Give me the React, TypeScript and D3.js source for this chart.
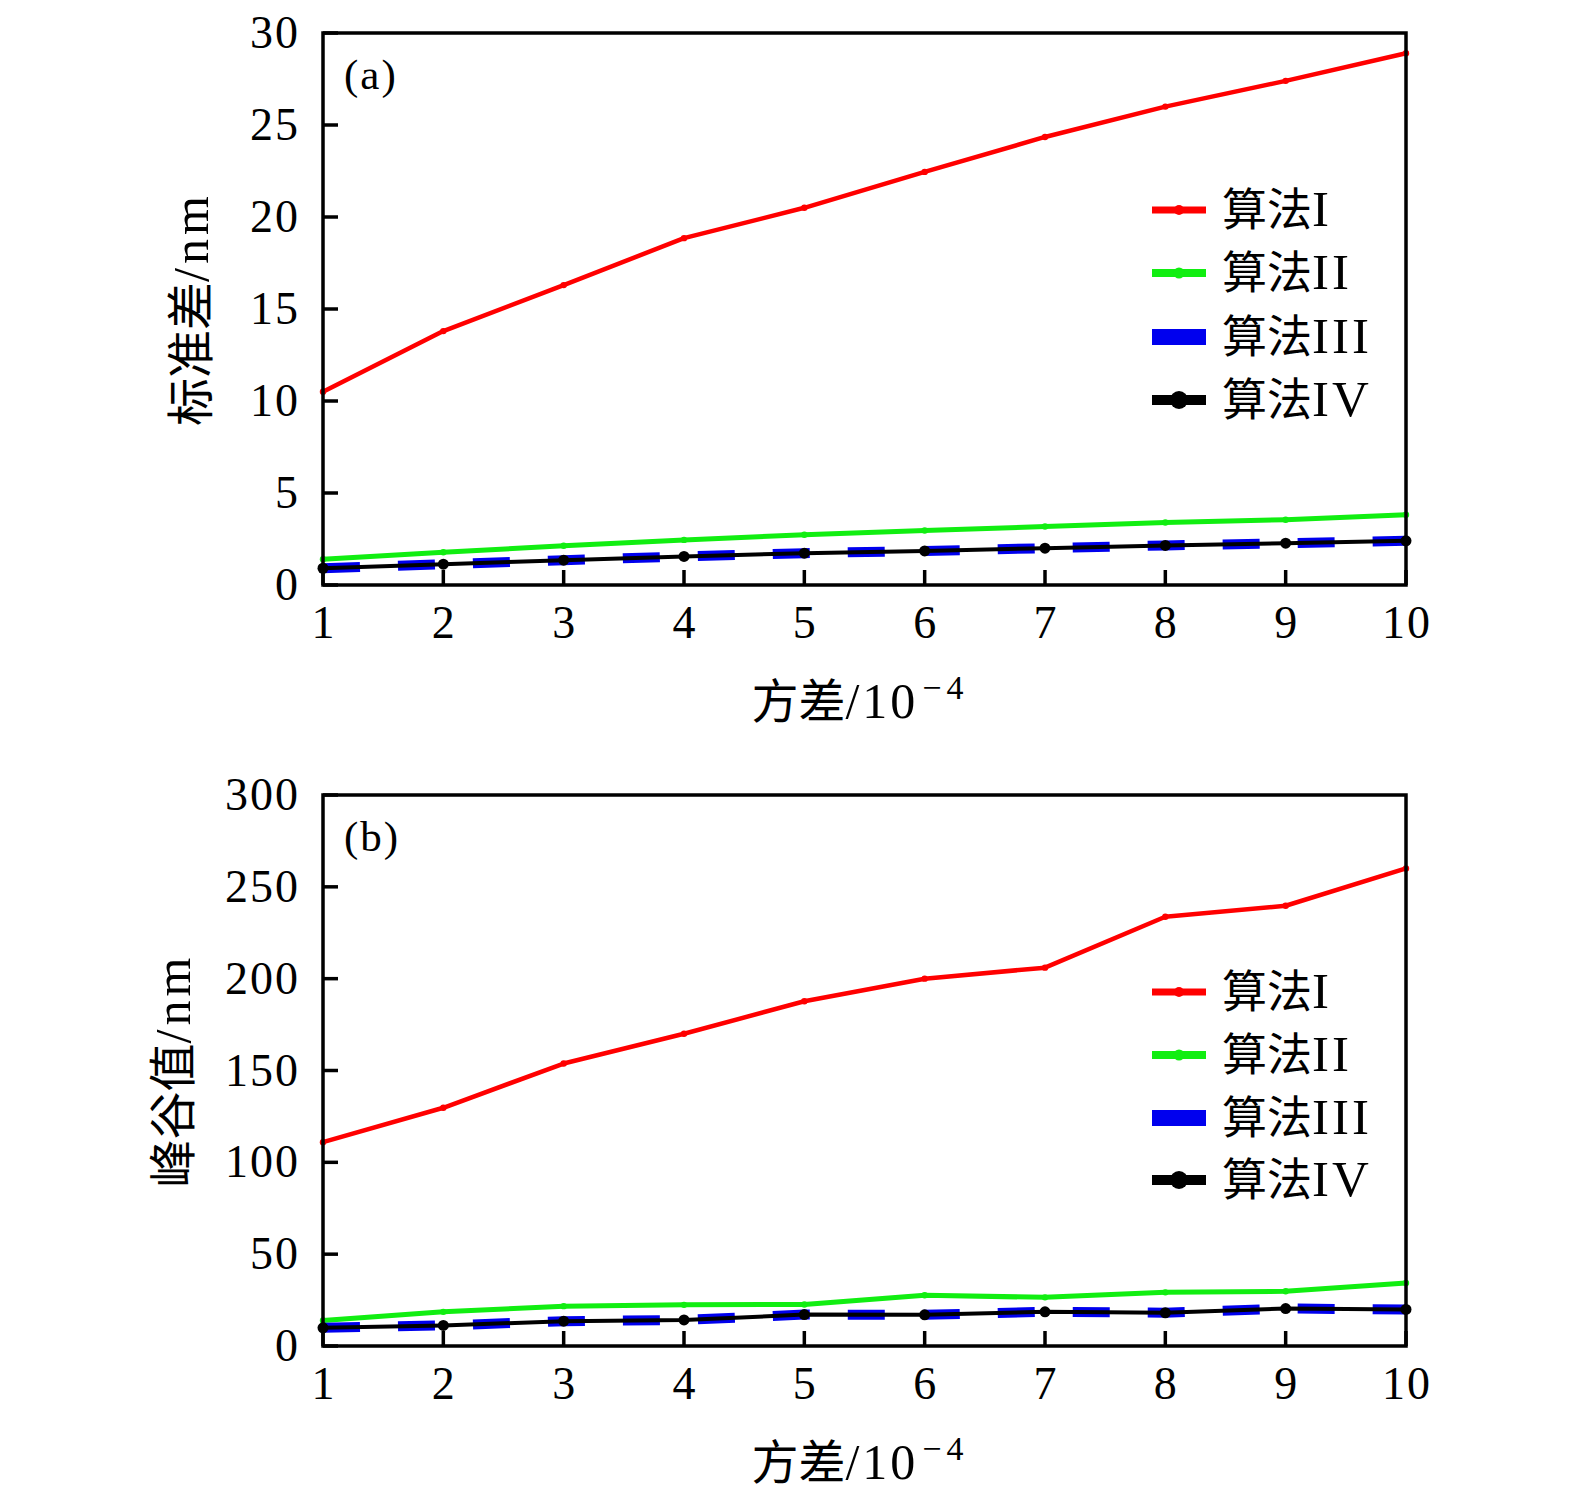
import React from "react";
import { scaleLinear, line } from "d3";

// x axis: variance in units of 1e-4
const variance = [1, 2, 3, 4, 5, 6, 7, 8, 9, 10];

// panel (a) standard deviation / nm
const stdAlg1 = [10.5, 13.8, 16.3, 18.85, 20.5, 22.45, 24.35, 26.0, 27.4, 28.9];
const stdAlg2 = [1.4, 1.78, 2.13, 2.45, 2.73, 2.96, 3.18, 3.4, 3.55, 3.82];
const stdAlg3 = [0.91, 1.13, 1.35, 1.55, 1.73, 1.85, 2.0, 2.15, 2.27, 2.4];
const stdAlg4 = [0.91, 1.13, 1.35, 1.55, 1.73, 1.85, 2.0, 2.15, 2.27, 2.4];

// panel (b) peak-to-valley / nm
const pvAlg1 = [111, 129.7, 153.8, 170, 187.7, 200, 206, 233.7, 239.7, 260];
const pvAlg2 = [13.9, 18.6, 21.7, 22.4, 22.6, 27.6, 26.5, 29.2, 29.8, 34.3];
const pvAlg3 = [9.9, 11.2, 13.5, 14.2, 17.1, 17.0, 18.6, 18.1, 20.4, 19.9];
const pvAlg4 = [9.9, 11.2, 13.5, 14.2, 17.1, 17.0, 18.6, 18.1, 20.4, 19.9];

const stdTicks = [0, 5, 10, 15, 20, 25, 30];
const pvTicks = [0, 50, 100, 150, 200, 250, 300];
const legendCjk = "算法";
const legendRoman = ["I", "II", "III", "IV"];

const FONT = "'Liberation Serif', 'Noto Sans CJK SC', serif";
const plotLeft = 323;
const plotRight = 1406;

interface PanelProps {
  top: number;
  bottom: number;
  yMax: number;
  yTicks: number[];
  tag: string;
  yTitleCjk: string;
  yTitleX: number;
  series: number[][];
  legendRows: number[];
}

const Panel: React.FC<PanelProps> = ({
  top,
  bottom,
  yMax,
  yTicks,
  tag,
  yTitleCjk,
  yTitleX,
  series,
  legendRows,
}) => {
  const xScale = scaleLinear().domain([1, 10]).range([plotLeft, plotRight]);
  const yScale = scaleLinear().domain([0, yMax]).range([bottom, top]);

  const path = (vals: number[]) =>
    line<number>()
      .x((d, i) => xScale(variance[i]))
      .y((d) => yScale(d))(vals) || "";

  const [s1, s2, s3, s4] = series;
  const tickLen = 15;
  const legX1 = 1152;
  const legX2 = 1206;
  const legMid = (legX1 + legX2) / 2;

  return (
    <g fontFamily={FONT}>
      {/* lines */}
      <path d={path(s1)} fill="none" stroke="#ff0000" strokeWidth={4.5} strokeLinejoin="round" />
      {s1.map((v, i) => (
        <circle key={"r" + i} cx={xScale(variance[i])} cy={yScale(v)} r={3.2} fill="#ff0000" />
      ))}
      <path d={path(s2)} fill="none" stroke="#11ee11" strokeWidth={5} strokeLinejoin="round" />
      {s2.map((v, i) => (
        <circle key={"g" + i} cx={xScale(variance[i])} cy={yScale(v)} r={3.2} fill="#11ee11" />
      ))}
      <path
        d={path(s3)}
        fill="none"
        stroke="#0000ee"
        strokeWidth={10}
        strokeDasharray="37 38"
      />
      <path d={path(s4)} fill="none" stroke="#000" strokeWidth={4} strokeLinejoin="round" />
      {s4.map((v, i) => (
        <circle key={"k" + i} cx={xScale(variance[i])} cy={yScale(v)} r={5.5} fill="#000" />
      ))}

      {/* frame */}
      <rect
        x={plotLeft}
        y={top}
        width={plotRight - plotLeft}
        height={bottom - top}
        fill="none"
        stroke="#000"
        strokeWidth={3.5}
      />

      {/* y ticks */}
      {yTicks.map((t) => (
        <g key={"y" + t}>
          <line
            x1={plotLeft}
            x2={plotLeft + tickLen}
            y1={yScale(t)}
            y2={yScale(t)}
            stroke="#000"
            strokeWidth={3.5}
          />
          <text
            x={300}
            y={yScale(t) + 15}
            textAnchor="end"
            fontSize={46}
            letterSpacing={2}
          >
            {t}
          </text>
        </g>
      ))}

      {/* x ticks */}
      {variance.map((t) => (
        <g key={"x" + t}>
          <line
            x1={xScale(t)}
            x2={xScale(t)}
            y1={bottom}
            y2={bottom - tickLen}
            stroke="#000"
            strokeWidth={3.5}
          />
          <text
            x={xScale(t) + 1}
            y={bottom + 53}
            textAnchor="middle"
            fontSize={46}
            letterSpacing={2}
          >
            {t}
          </text>
        </g>
      ))}

      {/* axis titles */}
      <text x={860} y={bottom + 133} textAnchor="middle" fontSize={47}>
        方差
        <tspan fontSize={50} letterSpacing={3}>
          /10
        </tspan>
        <tspan fontSize={34} dy={-19} dx={4} letterSpacing={5}>
          −4
        </tspan>
      </text>
      <text
        transform={`translate(${yTitleX},${(top + bottom) / 2}) rotate(-90)`}
        textAnchor="middle"
        fontSize={48}
      >
        {yTitleCjk}
        <tspan fontSize={50} letterSpacing={4}>
          /nm
        </tspan>
      </text>

      {/* panel tag */}
      <text x={344} y={top + 56} fontSize={43} letterSpacing={2}>
        {tag}
      </text>

      {/* legend */}
      {legendRoman.map((roman, i) => {
        const y = legendRows[i];
        let sample: React.ReactNode;
        if (i === 0)
          sample = (
            <>
              <line x1={legX1} x2={legX2} y1={y} y2={y} stroke="#ff0000" strokeWidth={7} />
              <circle cx={legMid} cy={y} r={5} fill="#ff0000" />
            </>
          );
        else if (i === 1)
          sample = (
            <>
              <line x1={legX1} x2={legX2} y1={y} y2={y} stroke="#11ee11" strokeWidth={8} />
              <circle cx={legMid} cy={y} r={5.5} fill="#11ee11" />
            </>
          );
        else if (i === 2)
          sample = <line x1={legX1} x2={legX2} y1={y} y2={y} stroke="#0000ee" strokeWidth={16} />;
        else
          sample = (
            <>
              <line x1={legX1} x2={legX2} y1={y} y2={y} stroke="#000" strokeWidth={10} />
              <circle cx={legMid} cy={y} r={9} fill="#000" />
            </>
          );
        return (
          <g key={roman}>
            {sample}
            <text x={1222} y={y + 16} fontSize={45}>
              {legendCjk}
              <tspan fontSize={51} letterSpacing={3}>
                {roman}
              </tspan>
            </text>
          </g>
        );
      })}
    </g>
  );
};

const App: React.FC = () => {
  return (
    <svg
      width={1575}
      height={1506}
      style={{ position: "absolute", left: 0, top: 0, background: "#fff" }}
    >
      <rect width={1575} height={1506} fill="#fff" />
      <Panel
        top={33}
        bottom={585}
        yMax={30}
        yTicks={stdTicks}
        tag="(a)"
        yTitleCjk="标准差"
        yTitleX={208}
        series={[stdAlg1, stdAlg2, stdAlg3, stdAlg4]}
        legendRows={[210, 273, 337, 400]}
      />
      <Panel
        top={795}
        bottom={1346}
        yMax={300}
        yTicks={pvTicks}
        tag="(b)"
        yTitleCjk="峰谷值"
        yTitleX={190}
        series={[pvAlg1, pvAlg2, pvAlg3, pvAlg4]}
        legendRows={[992, 1055, 1118, 1180]}
      />
    </svg>
  );
};

export default App;
